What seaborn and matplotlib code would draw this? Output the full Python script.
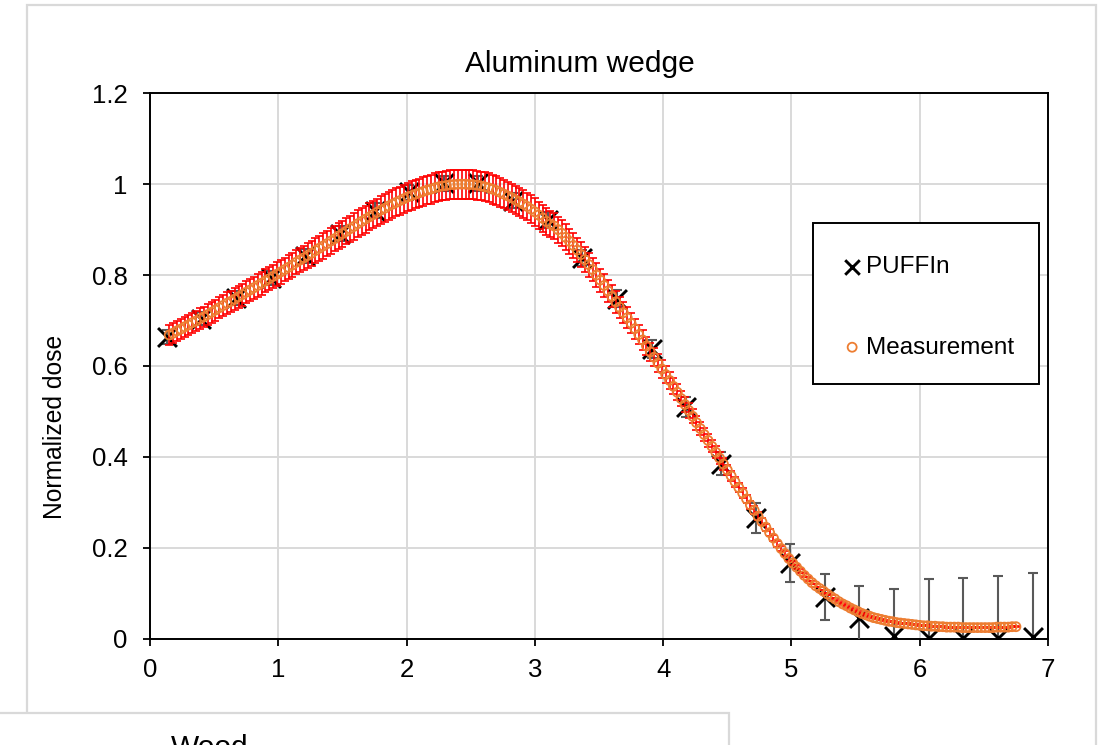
import numpy as np
import matplotlib
matplotlib.use("Agg")
import matplotlib.pyplot as plt
from matplotlib.patches import Rectangle
import seaborn as sns

# ---- chart text ----
title = "Aluminum wedge"
ylabel = "Normalized dose"
next_title = "Wood"
series_names = ["PUFFIn", "Measurement"]

# ---- axis ticks ----
x_ticks = [0, 1, 2, 3, 4, 5, 6, 7]
x_tick_labels = ["0", "1", "2", "3", "4", "5", "6", "7"]
y_ticks = [0.0, 0.2, 0.4, 0.6, 0.8, 1.0, 1.2]
y_tick_labels = ["0", "0.2", "0.4", "0.6", "0.8", "1", "1.2"]

# ---- PUFFIn simulation ----
puffin_x = [0.13, 0.40, 0.67, 0.94, 1.21, 1.48, 1.75, 2.02, 2.29, 2.56,
            2.83, 3.10, 3.37, 3.64, 3.91, 4.18, 4.45, 4.72, 4.99, 5.26,
            5.53, 5.80, 6.07, 6.34, 6.61, 6.88]
puffin_y = [0.663, 0.704, 0.750, 0.793, 0.842, 0.891, 0.942, 0.982, 1.002, 1.002,
            0.964, 0.921, 0.838, 0.748, 0.638, 0.509, 0.385, 0.266, 0.167, 0.091,
            0.046, 0.006, 0.001, 0.002, 0.001, 0.003]
puffin_err = [0.015, 0.015, 0.015, 0.015, 0.015, 0.016, 0.016, 0.016, 0.016, 0.016,
              0.016, 0.017, 0.018, 0.019, 0.020, 0.022, 0.025, 0.033, 0.042, 0.050,
              0.069, 0.104, 0.131, 0.132, 0.137, 0.142]

# ---- measured profile (0.03 mm sampling from 0.15 mm) ----
meas_start, meas_step = 0.15, 0.03
meas_y = [
    0.668, 0.672, 0.677, 0.681, 0.686, 0.690, 0.695, 0.699, 0.704, 0.708,
    0.713, 0.718, 0.723, 0.728, 0.733, 0.738, 0.742, 0.747, 0.752, 0.757,
    0.762, 0.767, 0.772, 0.777, 0.782, 0.787, 0.792, 0.797, 0.802, 0.807,
    0.812, 0.817, 0.822, 0.828, 0.833, 0.838, 0.843, 0.848, 0.854, 0.859,
    0.864, 0.869, 0.875, 0.880, 0.886, 0.891, 0.896, 0.902, 0.907, 0.913,
    0.918, 0.923, 0.928, 0.933, 0.938, 0.943, 0.947, 0.952, 0.956, 0.960,
    0.964, 0.968, 0.972, 0.975, 0.978, 0.981, 0.984, 0.987, 0.989, 0.992,
    0.994, 0.996, 0.997, 0.999, 0.999, 1.000, 1.000, 1.000, 0.999, 0.999,
    0.998, 0.996, 0.994, 0.992, 0.989, 0.986, 0.982, 0.978, 0.974, 0.970,
    0.965, 0.961, 0.956, 0.951, 0.945, 0.939, 0.932, 0.925, 0.918, 0.912,
    0.908, 0.900, 0.892, 0.883, 0.874, 0.865, 0.855, 0.845, 0.834, 0.823,
    0.812, 0.800, 0.789, 0.777, 0.765, 0.753, 0.741, 0.729, 0.717, 0.706,
    0.694, 0.682, 0.669, 0.657, 0.644, 0.631, 0.619, 0.606, 0.593, 0.581,
    0.568, 0.555, 0.542, 0.528, 0.515, 0.502, 0.489, 0.475, 0.462, 0.449,
    0.436, 0.423, 0.410, 0.397, 0.384, 0.371, 0.358, 0.345, 0.332, 0.320,
    0.307, 0.294, 0.282, 0.269, 0.257, 0.245, 0.233, 0.221, 0.209, 0.198,
    0.187, 0.176, 0.166, 0.157, 0.148, 0.139, 0.131, 0.123, 0.116, 0.110,
    0.104, 0.098, 0.092, 0.087, 0.081, 0.076, 0.072, 0.067, 0.063, 0.059,
    0.055, 0.052, 0.049, 0.046, 0.044, 0.042, 0.040, 0.038, 0.037, 0.035,
    0.034, 0.033, 0.032, 0.031, 0.030, 0.029, 0.028, 0.028, 0.027, 0.027,
    0.026, 0.026, 0.025, 0.025, 0.025, 0.025, 0.024, 0.024, 0.024, 0.024,
    0.024, 0.024, 0.024, 0.024, 0.024, 0.025, 0.025, 0.025, 0.025, 0.026,
    0.026,
]
meas_rel_err = 0.032  # relative uncertainty of the measurement

meas_y = np.array(meas_y)
meas_x = np.round(meas_start + meas_step * np.arange(len(meas_y)), 3)
meas_err = meas_rel_err * meas_y

# ---- style ----
sns.set_style("white")
plt.rcParams["font.family"] = ["Liberation Sans", "DejaVu Sans"]
plt.rcParams["text.color"] = "#000000"

W, H = 1107, 745
fig = plt.figure(figsize=(W / 100, H / 100), dpi=100)
fig.patch.set_facecolor("white")

# chart-area frame
fig.add_artist(Rectangle((27 / W, -0.05), (1096 - 27) / W, 1 - 5 / H + 0.05,
                         transform=fig.transFigure, fill=False,
                         edgecolor="#D9D9D9", linewidth=1.6, zorder=0))

ax = fig.add_axes([150 / W, 106.5 / H, 898 / W, 545.2 / H])
ax.set_facecolor("white")

# PUFFIn: error bars + crosses
ax.errorbar(puffin_x, puffin_y, yerr=puffin_err, fmt="none",
            ecolor="#595959", elinewidth=1.5, capsize=3.6, capthick=1.5, zorder=3)
sns.scatterplot(x=puffin_x, y=puffin_y, marker="x", s=185, color="black",
                linewidth=2.1, label=series_names[0], ax=ax, zorder=4)

# Measurement: red error bars + open orange circles
ax.errorbar(meas_x, meas_y, yerr=meas_err, fmt="none",
            ecolor="#FF0000", elinewidth=1.2, capsize=3.2, capthick=1.2, zorder=5)
sns.scatterplot(x=meas_x, y=meas_y, marker="o", s=42, color="#ED7D31",
                edgecolor="#ED7D31", linewidth=1.3, label=series_names[1],
                ax=ax, zorder=6)
ax.collections[-1].set_facecolor("none")

ax.set_xlim(0, 7)
ax.set_ylim(0, 1.2)
ax.set_xticks(x_ticks)
ax.set_xticklabels(x_tick_labels)
ax.set_yticks(y_ticks)
ax.set_yticklabels(y_tick_labels)
ax.set_xlabel("")
ax.set_ylabel("")

ax.grid(True, color="#D9D9D9", linewidth=1.4)
ax.set_axisbelow(True)
for sp in ax.spines.values():
    sp.set_visible(True)
    sp.set_color("black")
    sp.set_linewidth(1.4)

ax.tick_params(axis="both", which="major", direction="out", length=5, width=1.3,
               color="black", labelsize=18.5, labelcolor="black")
ax.tick_params(axis="x", pad=9, bottom=True)
ax.tick_params(axis="y", pad=11, left=True)

# legend box drawn as its own frame, entries placed inside it
ax.add_patch(Rectangle((813 / W, 1 - 384 / H), 226 / W, 161 / H,
                       transform=fig.transFigure, facecolor="white",
                       edgecolor="black", linewidth=1.4, clip_on=False, zorder=9))
leg = ax.legend(loc="upper left", bbox_to_anchor=(840 / W, 1 - 256 / H),
                bbox_transform=fig.transFigure, frameon=False,
                borderpad=0, labelspacing=2.41, handlelength=1.0,
                handletextpad=0.08, fontsize=17.5, borderaxespad=0)
leg.set_zorder(10)
for h in leg.legend_handles:
    try:
        h.set_sizes([110] if h.get_label() == series_names[0] else [42])
    except AttributeError:
        pass

fig.text(580 / W, 1 - 71.7 / H, title, ha="center", va="baseline", fontsize=21.5)
fig.text(55 / W, 1 - 426.5 / H, ylabel, ha="center", va="center",
         rotation=90, fontsize=17.7)

# next chart panel overlapping the bottom
fig.add_artist(Rectangle((-0.05, -0.1), (729 / W) + 0.05, 0.1 + (H - 713) / H,
                         transform=fig.transFigure, facecolor="white",
                         edgecolor="#D9D9D9", linewidth=1.6, zorder=20))
fig.text(210 / W, 1 - 756 / H, next_title, ha="center", va="baseline",
         fontsize=21.5, zorder=21)

fig.savefig("out.png", dpi=100)
